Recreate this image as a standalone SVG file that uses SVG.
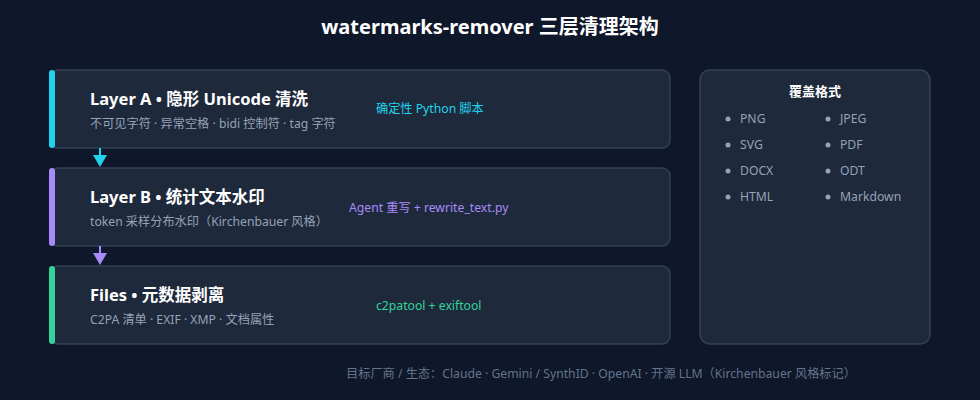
<svg xmlns="http://www.w3.org/2000/svg" width="980" height="400" viewBox="0 0 980 400">
<defs>
<style>
text{font-family:"Noto Sans","Noto Sans CJK SC",sans-serif}
.card{fill:#1e293b;stroke:#334155;stroke-width:1.5}
.title{font-size:16.5px;font-weight:700;fill:#ffffff}
.sub{font-size:12.2px;fill:#94a3b8}
.tool{font-size:12.2px}
.fmt{font-size:12.2px;fill:#94a3b8}
.dot{fill:#94a3b8}
</style>
</defs>
<rect width="980" height="400" fill="#0f172a"/>
<text x="490" y="34" text-anchor="middle" style="font-size:20px;font-weight:700;fill:#ffffff">watermarks-remover 三层清理架构</text>

<g id="layerA">
<rect class="card" x="50" y="70" width="620" height="78" rx="8"/>
<rect x="49" y="70" width="6" height="78" rx="3" fill="#22d3ee"/>
<text class="title" x="90" y="105">Layer A • 隐形 Unicode 清洗</text>
<text class="sub" x="90" y="128">不可见字符 · 异常空格 · bidi 控制符 · tag 字符</text>
<text class="tool" x="376" y="113" fill="#22d3ee">确定性 Python 脚本</text>
</g>

<g id="layerB">
<rect class="card" x="50" y="168" width="620" height="78" rx="8"/>
<rect x="49" y="168" width="6" height="78" rx="3" fill="#a78bfa"/>
<text class="title" x="90" y="203">Layer B • 统计文本水印</text>
<text class="sub" x="90" y="226">token 采样分布水印（Kirchenbauer 风格）</text>
<text class="tool" x="349" y="212" fill="#a78bfa">Agent 重写 + rewrite_text.py</text>
</g>

<g id="files">
<rect class="card" x="50" y="266" width="620" height="78" rx="8"/>
<rect x="49" y="266" width="6" height="78" rx="3" fill="#34d399"/>
<text class="title" x="90" y="301">Files • 元数据剥离</text>
<text class="sub" x="90" y="324">C2PA 清单 · EXIF · XMP · 文档属性</text>
<text class="tool" x="376" y="310" fill="#34d399">c2patool + exiftool</text>
</g>

<g id="connectors">
<line x1="100" y1="148" x2="100" y2="156" stroke="#22d3ee" stroke-width="2"/>
<path d="M93,155 L107,155 L100,167 Z" fill="#22d3ee"/>
<line x1="100" y1="246" x2="100" y2="254" stroke="#a78bfa" stroke-width="2"/>
<path d="M93,253 L107,253 L100,265 Z" fill="#a78bfa"/>
</g>

<g id="formats">
<rect class="card" x="700" y="70" width="230" height="274" rx="10"/>
<text x="815" y="96" text-anchor="middle" style="font-size:13px;font-weight:700;fill:#ffffff">覆盖格式</text>
<circle class="dot" cx="728" cy="119" r="2.5"/><text class="fmt" x="740" y="123">PNG</text>
<circle class="dot" cx="828" cy="119" r="2.5"/><text class="fmt" x="840" y="123">JPEG</text>
<circle class="dot" cx="728" cy="145" r="2.5"/><text class="fmt" x="740" y="149">SVG</text>
<circle class="dot" cx="828" cy="145" r="2.5"/><text class="fmt" x="840" y="149">PDF</text>
<circle class="dot" cx="728" cy="171" r="2.5"/><text class="fmt" x="740" y="175">DOCX</text>
<circle class="dot" cx="828" cy="171" r="2.5"/><text class="fmt" x="840" y="175">ODT</text>
<circle class="dot" cx="728" cy="197" r="2.5"/><text class="fmt" x="740" y="201">HTML</text>
<circle class="dot" cx="828" cy="197" r="2.5"/><text class="fmt" x="840" y="201">Markdown</text>
</g>

<text x="601" y="378" text-anchor="middle" style="font-size:12.2px;fill:#64748b">目标厂商 / 生态：Claude · Gemini / SynthID · OpenAI · 开源 LLM（Kirchenbauer 风格标记）</text>
</svg>
